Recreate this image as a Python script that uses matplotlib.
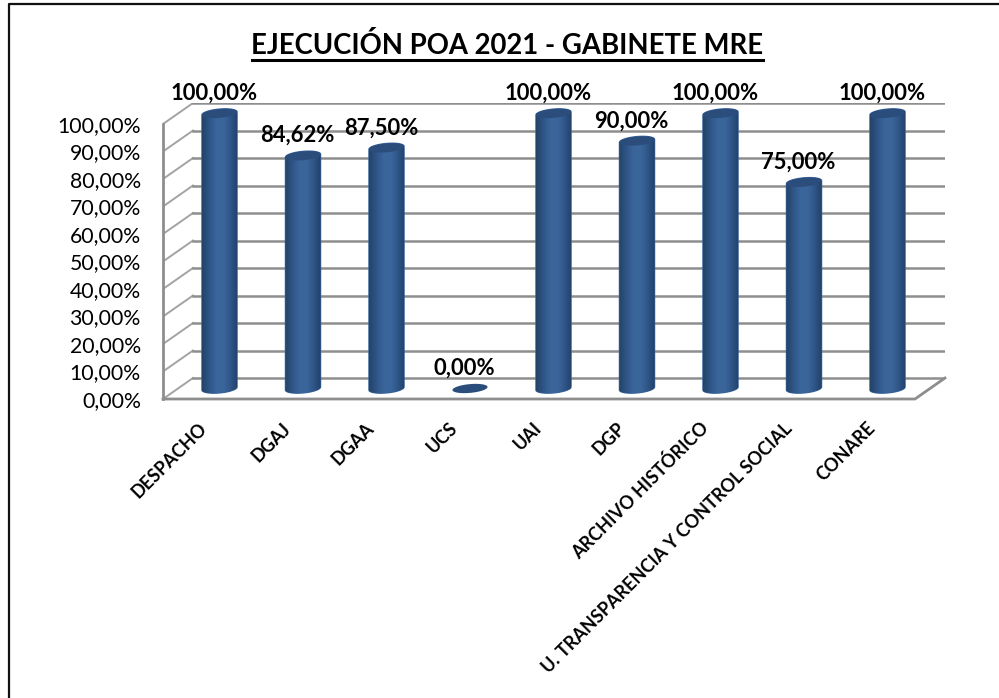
"""Ejecucion POA 2021 - fake 3D cylinder bars on a drawn wall/floor."""
import matplotlib
matplotlib.use("Agg")
import matplotlib.pyplot as plt
from matplotlib.colors import LinearSegmentedColormap
from matplotlib.lines import Line2D
import numpy as np

plt.rcParams["font.family"] = ["Lato", "DejaVu Sans"]

CATEGORIES = ["DESPACHO", "DGAJ", "DGAA", "UCS", "UAI", "DGP", "ARCHIVO HISTÓRICO",
              "U. TRANSPARENCIA Y CONTROL SOCIAL", "CONARE"]
VALUES = [100.0, 84.62, 87.50, 0.0, 100.0, 90.0, 100.0, 75.0, 100.0]
TICKS = [0, 10, 20, 30, 40, 50, 60, 70, 80, 90, 100]
TITLE = "EJECUCIÓN POA 2021 - GABINETE MRE"

W, H = 999, 698
PX_CAT = 83.5     # pixels per category
PX_VAL = 2.75     # pixels per percent
X0_PX, Y0_PX = 219.5, 388.5   # first bar centre, value 0
LEFT, RIGHT, TOP, BOTTOM = 163, 945, 103, 399
GRID = "#8e8e8e"
BODY = LinearSegmentedColormap.from_list(
    "body", ["#234368", "#2f5587", "#3a659b", "#3b669c", "#2f5688", "#22416a"])
CAP = "#2a4d7c"


def es(v):
    return f"{v:.2f}".replace(".", ",") + "%"


def ell(cx, cy, t):
    w, b, tilt = 0.21, 1.6, 1.1 / 0.42
    x = cx + w * np.cos(t)
    return x, cy + b * np.sin(t) + tilt * (x - cx)


fig = plt.figure(figsize=(W / 100, H / 100), dpi=100)
ax = fig.add_axes([LEFT / W, 1 - BOTTOM / H, (RIGHT - LEFT) / W, (BOTTOM - TOP) / H])
xlim = ((LEFT - X0_PX) / PX_CAT, (RIGHT - X0_PX) / PX_CAT)
ylim = ((Y0_PX - BOTTOM) / PX_VAL, (Y0_PX - TOP) / PX_VAL)
dx = 30 / PX_CAT          # depth of the floor, categories
dy = -ylim[0]             # depth of the floor, percent

# walls and floor
back_l = xlim[0] + dx
for v in TICKS:
    ax.plot([xlim[0], back_l], [v - dy, v + dy], color="#a3a3a3", lw=1.4, zorder=1)
    ax.plot([back_l, xlim[1]], [v + dy, v + dy], color=GRID, lw=1.8, zorder=1)
ax.plot([xlim[0], xlim[0]], [-dy, 100 - dy], color=GRID, lw=2, zorder=2, clip_on=False)
ax.plot([xlim[0], xlim[1] - dx, xlim[1]], [-dy, -dy, dy], color=GRID, lw=2, zorder=2, clip_on=False)

# cylinders
grad = np.linspace(0, 1, 64).reshape(1, -1)
t_low = np.linspace(np.pi, 2 * np.pi, 40)
t_up = np.linspace(0, np.pi, 40)
t_all = np.linspace(0, 2 * np.pi, 80)
for i, v in enumerate(VALUES):
    if v > 0:
        xb, yb = ell(i, 0, t_low)
        xt, yt = ell(i, v, t_up)
        clip = ax.fill(np.r_[xb, xt], np.r_[yb, yt], color="#3a659b", zorder=3)[0]
        im = ax.imshow(grad, cmap=BODY, aspect="auto", zorder=4,
                       extent=(i - 0.21, i + 0.21, -3, v + 3))
        im.set_clip_path(clip)
    xc, yc = ell(i, v, t_all)
    ax.fill(xc, yc, color=CAP, lw=0, zorder=5)
    ax.annotate(es(v), (i, v), xytext=(-4, 14.5), textcoords="offset points",
                ha="center", va="center", fontsize=15.8, fontweight="bold", color="black", zorder=6,
                annotation_clip=False)

ax.set_xlim(xlim)
ax.set_ylim(ylim)
for s in ax.spines.values():
    s.set_visible(False)
ax.patch.set_visible(False)

ax.set_yticks([v - dy for v in TICKS], [es(v) for v in TICKS], fontsize=15.3)
ax.tick_params(axis="y", length=0, pad=16)
ax.set_xticks([i - 0.18 for i in range(len(CATEGORIES))])
ax.set_xticklabels(CATEGORIES, rotation=45, ha="right", va="center", rotation_mode="anchor",
                   fontsize=13, fontweight="bold")
ax.tick_params(axis="x", length=0, pad=19)

# title with its underline, and the cropped frame (left and top only)
fig.text(507.5 / W, 1 - 45 / H, TITLE, ha="center", va="center", fontsize=19.8, fontweight="bold")
fig.add_artist(Line2D([252 / W, 763 / W], [1 - 60 / H] * 2, color="black", lw=2.2))
fig.add_artist(Line2D([9 / W, 9 / W, 1], [0, 1 - 4 / H, 1 - 4 / H], color="#111111", lw=1.6))

fig.savefig("out.png", dpi=100)
